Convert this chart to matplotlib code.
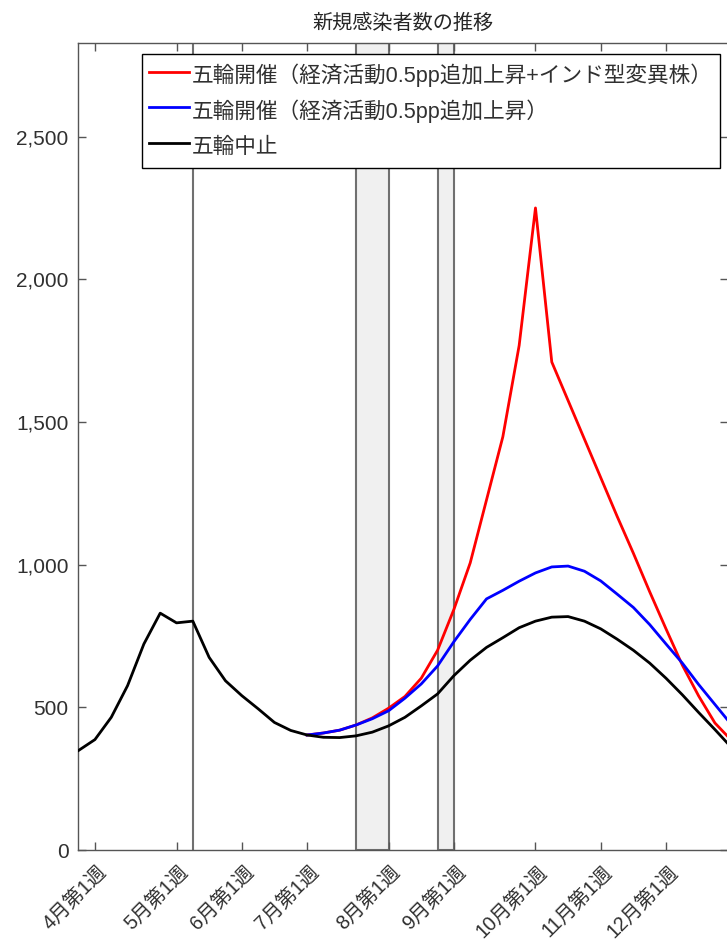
import matplotlib
matplotlib.use("Agg")
import matplotlib.pyplot as plt
from matplotlib.ticker import FuncFormatter
from matplotlib.transforms import ScaledTranslation

plt.rcParams['font.family'] = ['Liberation Sans', 'Noto Sans CJK JP', 'DejaVu Sans']

# ---------------- data ----------------
weeks_black = list(range(-1, 40))
black = [349, 387, 465, 576, 722, 830, 796, 802, 675, 593,
         541, 495, 447, 419, 403, 395, 394, 400, 413, 435,
         465, 505, 547, 611, 665, 710, 744, 779, 802, 816,
         818, 802, 775, 739, 700, 655, 602, 544, 482, 422, 360]

weeks_scen = list(range(13, 40))
blue = [403, 410, 420, 438, 460, 488, 532, 582, 645, 730,
        808, 880, 910, 942, 971, 992, 995, 977, 943, 897,
        850, 790, 722, 655, 580, 510, 440]
red = [403, 410, 420, 438, 463, 497, 538, 602, 700, 843,
       1006, 1227, 1448, 1768, 2250, 1710, 1575, 1440, 1305, 1170,
       1040, 905, 775, 648, 540, 445, 385]

series_labels = ['五輪開催（経済活動0.5pp追加上昇+インド型変異株）',
                 '五輪開催（経済活動0.5pp追加上昇）',
                 '五輪中止']

tick_weeks = [0, 5, 9, 13, 18, 22, 27, 31, 35]
tick_labels = ['4月第1週', '5月第1週', '6月第1週', '7月第1週', '8月第1週',
               '9月第1週', '10月第1週', '11月第1週', '12月第1週']
yticks = [0, 500, 1000, 1500, 2000, 2500]

event_line_week = 6
olympics_span = (16, 18)
paralympics_span = (21, 22)

title = '新規感染者数の推移'

# ---------------- figure ----------------
fig = plt.figure(figsize=(7.27, 9.41), dpi=100)
ax = fig.add_axes([0.1077, 0.0967, 0.893, 0.8573])

axis_col = '#555555'
text_col = '#303030'

for span in (olympics_span, paralympics_span):
    ax.axvspan(span[0], span[1], facecolor='#f0f0f0', edgecolor='#707070',
               linewidth=1.5, zorder=1)
ax.axvline(event_line_week, color='#707070', linewidth=1.5, zorder=1)

ax.plot(weeks_scen, red, color='#ff0000', linewidth=2.0, label=series_labels[0], zorder=3)
ax.plot(weeks_scen, blue, color='#0000ff', linewidth=2.0, label=series_labels[1], zorder=4)
ax.plot(weeks_black, black, color='#000000', linewidth=2.0, label=series_labels[2], zorder=5)

ax.set_xlim(-1.02, 38.77)
ax.set_ylim(0, 2827)

ax.set_yticks(yticks)
ax.yaxis.set_major_formatter(FuncFormatter(lambda v, p: f'{int(v):,}'))
ax.set_xticks(tick_weeks)
ax.set_xticklabels(tick_labels, rotation=45, ha='right', va='center',
                   rotation_mode='anchor')

ax.tick_params(axis='both', direction='in', length=6, width=1.0,
               color=axis_col, labelcolor=text_col, top=True, right=True)
ax.tick_params(axis='x', pad=14, labelsize=14.2)
ax.tick_params(axis='y', pad=7, labelsize=15)
offset = ScaledTranslation(0.09, 0, fig.dpi_scale_trans)
for lab in ax.get_xticklabels():
    lab.set_transform(lab.get_transform() + offset)
for s in ax.spines.values():
    s.set_color(axis_col)
    s.set_linewidth(1.0)

ax.set_title(title, fontsize=14.5, color='#262626', pad=10)

leg = ax.legend(loc='upper right', bbox_to_anchor=(0.9885, 0.9867),
                borderaxespad=0, fontsize=15.6, handlelength=1.85,
                handleheight=1.68, handletextpad=0.16, borderpad=0.32,
                labelspacing=0.3, fancybox=False, framealpha=1,
                edgecolor='#000000')
leg.get_frame().set_linewidth(1.0)
for t in leg.get_texts():
    t.set_color(text_col)

fig.savefig('out.png', dpi=100)
